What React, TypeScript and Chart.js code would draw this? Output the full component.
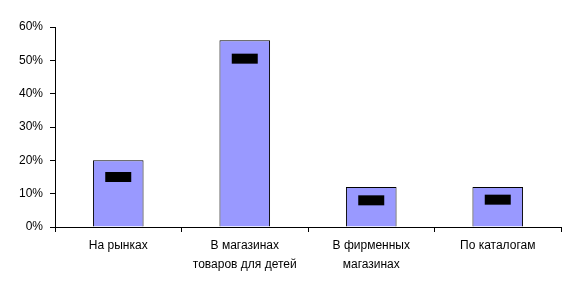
import React, { useEffect, useRef } from "react";
import { Chart, registerables } from "chart.js";

Chart.register(...registerables);

const categories: string[][] = [
  ["На рынках"],
  ["В магазинах", "товаров для детей"],
  ["В фирменных", "магазинах"],
  ["По каталогам"],
];
const barValues = [20, 56, 12, 12];
const markerValues = [15, 50.5, 8, 8.2];
const yTicks = [0, 10, 20, 30, 40, 50, 60];

export default function App() {
  const ref = useRef<HTMLCanvasElement | null>(null);
  useEffect(() => {
    document.body.style.margin = "0";
    const ctx = ref.current!;
    const font = { family: "'Liberation Sans', Arial, sans-serif", size: 12 };
    const chart = new Chart(ctx, {
      type: "bar",
      data: {
        labels: categories,
        datasets: [
          {
            type: "line",
            data: markerValues,
            showLine: false,
            pointStyle: "line",
            pointRadius: 13,
            pointBorderWidth: 10,
            pointBorderColor: "#000000",
            pointBackgroundColor: "#000000",
            borderColor: "#000000",
            order: 0,
          } as any,
          {
            type: "bar",
            data: barValues,
            backgroundColor: "#9999FF",
            borderColor: "#000000",
            borderWidth: 1,
            barPercentage: 0.4,
            categoryPercentage: 1,
            order: 1,
          },
        ],
      },
      options: {
        animation: false,
        responsive: false,
        maintainAspectRatio: false,
        layout: { autoPadding: false, padding: { left: 19, right: 15, top: 27, bottom: 13.6 } },
        plugins: { legend: { display: false }, tooltip: { enabled: false } },
        scales: {
          x: {
            offset: true,
            grid: {
              display: true,
              drawOnChartArea: false,
              tickLength: 5,
              color: "#000000",
              offset: true,
            },
            border: { color: "#000000", width: 1 },
            ticks: {
              color: "#000000",
              font: { ...font, lineHeight: 1.6 },
              padding: 4,
              maxRotation: 0,
              autoSkip: false,
            },
          },
          y: {
            min: 0,
            max: 60,
            afterBuildTicks: (axis: any) => {
              axis.ticks = yTicks.map((v) => ({ value: v }));
            },
            afterFit: (axis: any) => {
              axis.width = 36;
            },
            grid: {
              display: true,
              drawOnChartArea: false,
              tickLength: 5,
              color: "#000000",
            },
            border: { color: "#000000", width: 1 },
            ticks: {
              color: "#000000",
              font,
              padding: 7,
              callback: (v: any) => v + "%",
            },
          },
        },
      },
    });
    return () => chart.destroy();
  }, []);
  return (
    <div style={{ position: "absolute", left: 0, top: 0, width: 576, height: 292 }}>
      <canvas ref={ref} width={576} height={292} style={{ width: 576, height: 292 }} />
    </div>
  );
}
